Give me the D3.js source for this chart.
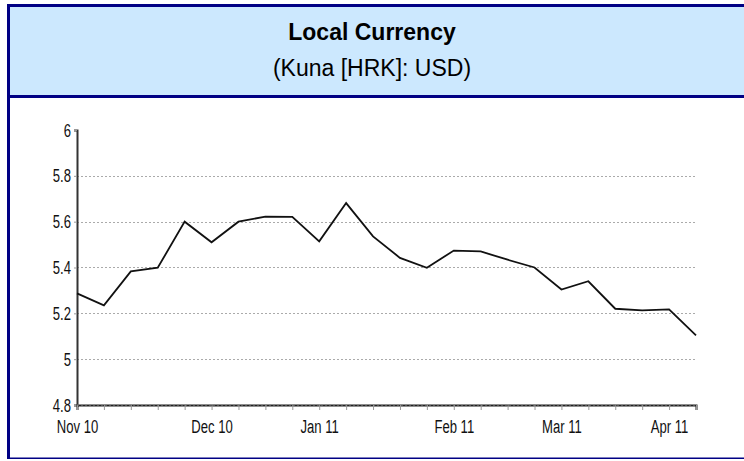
<!DOCTYPE html>
<html>
<head>
<meta charset="utf-8">
<script src="https://cdn.jsdelivr.net/npm/d3@7"></script>
<style>
  body { margin: 0; background: #fff; }
  svg { display: block; font-family: "Liberation Sans", Arial, sans-serif; }
</style>
</head>
<body>
<svg id="chart"></svg>
<script>
// Weekly rates, first Monday of Nov 10 to Apr 11
const weeks = ["2010-11-01","2010-11-08","2010-11-15","2010-11-22","2010-11-29",
  "2010-12-06","2010-12-13","2010-12-20","2010-12-27","2011-01-03","2011-01-10",
  "2011-01-17","2011-01-24","2011-01-31","2011-02-07","2011-02-14","2011-02-21",
  "2011-02-28","2011-03-07","2011-03-14","2011-03-21","2011-03-28","2011-04-04",
  "2011-04-11"];
const rates = [5.287, 5.235, 5.383, 5.399, 5.600, 5.510, 5.600, 5.622, 5.621, 5.514,
  5.681, 5.536, 5.442, 5.399, 5.474, 5.470, 5.434, 5.400, 5.304, 5.340, 5.220,
  5.213, 5.217, 5.104];
const yTicks = [4.8, 5, 5.2, 5.4, 5.6, 5.8, 6];
const gridTicks = [4.8, 5, 5.2, 5.4, 5.6, 5.8];
const monthLabels = ["Nov 10", "Dec 10", "Jan 11", "Feb 11", "Mar 11", "Apr 11"];

const title = "Local Currency";
const subtitle = "(Kuna [HRK]: USD)";

const config = {
  containerWidth: 744,
  containerHeight: 461,
  margin: { top: 130, bottom: 56, right: 48, left: 77 }
};
const width = config.containerWidth - config.margin.left - config.margin.right;
const height = config.containerHeight - config.margin.top - config.margin.bottom;
const navy = "#000084";
const squeeze = 0.69; // axis labels are drawn condensed

const svg = d3.select("#chart")
    .attr("width", config.containerWidth)
    .attr("height", config.containerHeight);

// Header panel and frame
svg.append("rect")
    .attr("x", 10).attr("y", 7)
    .attr("width", config.containerWidth - 10).attr("height", 88)
    .attr("fill", "#cce8fe");
svg.append("rect")   // top border
    .attr("x", 7).attr("y", 4)
    .attr("width", config.containerWidth - 7).attr("height", 3)
    .attr("fill", navy);
svg.append("rect")   // left border
    .attr("x", 7).attr("y", 4)
    .attr("width", 3).attr("height", 455)
    .attr("fill", navy);
svg.append("rect")   // header separator
    .attr("x", 7).attr("y", 95)
    .attr("width", config.containerWidth - 7).attr("height", 3)
    .attr("fill", navy);
svg.append("rect")   // bottom border
    .attr("x", 7).attr("y", 457.5)
    .attr("width", config.containerWidth - 7).attr("height", 1.5)
    .attr("fill", navy);

svg.append("text")
    .attr("x", config.containerWidth / 2)
    .attr("y", 40)
    .attr("text-anchor", "middle")
    .attr("font-weight", "bold")
    .style("font-size", "23px")
    .text(title);
svg.append("text")
    .attr("x", config.containerWidth / 2)
    .attr("y", 76)
    .attr("text-anchor", "middle")
    .style("font-size", "23px")
    .text(subtitle);

const chart = svg.append("g")
    .attr("transform", `translate(${config.margin.left},${config.margin.top})`);

const parse = d3.timeParse("%Y-%m-%d");

const xScale = d3.scalePoint()
    .domain(weeks)
    .range([0, width]);
const yScale = d3.scaleLinear()
    .domain([4.8, 6])
    .range([height, 0]);

// first week of every month gets a label
const labelFor = {};
let m = 0;
weeks.forEach((w, i) => {
  if (i === 0 || parse(w).getMonth() !== parse(weeks[i - 1]).getMonth()) {
    labelFor[w] = monthLabels[m++];
  }
});

// gridlines
chart.append("g")
  .selectAll("line")
  .data(gridTicks)
  .join("line")
    .attr("x1", 0).attr("x2", width)
    .attr("y1", d => Math.round(yScale(d)) + 0.5)
    .attr("y2", d => Math.round(yScale(d)) + 0.5)
    .attr("stroke", "#aaa")
    .attr("stroke-dasharray", "2,2");

// Y axis
const yAxisG = chart.append("g")
    .call(d3.axisLeft(yScale).tickValues(yTicks).tickSize(3).tickPadding(3)
      .tickFormat(d3.format("")));
yAxisG.select(".domain").attr("stroke", "#333").attr("stroke-width", 2);
yAxisG.selectAll(".tick line").attr("stroke", "#999");
yAxisG.selectAll(".tick text")
    .attr("fill", "#111")
    .style("font-size", "19px")
    .attr("x", -6 / squeeze)
    .attr("transform", `scale(${squeeze},1)`);

// X axis
const xAxisG = chart.append("g")
    .attr("transform", `translate(0,${height})`)
    .call(d3.axisBottom(xScale).tickSize(5).tickPadding(10)
      .tickFormat(d => labelFor[d] || ""));
xAxisG.select(".domain").attr("stroke", "#222").attr("stroke-width", 2);
xAxisG.selectAll(".tick line").attr("stroke", "#999");
xAxisG.selectAll(".tick text")
    .attr("fill", "#111")
    .style("font-size", "19px")
    .attr("transform", `scale(${squeeze},1)`);
chart.append("line")
    .attr("x1", 0).attr("x2", width)
    .attr("y1", height).attr("y2", height)
    .attr("stroke", "#888")
    .attr("stroke-dasharray", "2,2");

// Rate line
chart.append("path")
    .datum(weeks)
    .attr("fill", "none")
    .attr("stroke", "#111")
    .attr("stroke-width", 1.8)
    .attr("d", d3.line()
      .x(w => xScale(w))
      .y((w, i) => yScale(rates[i])));
</script>
</body>
</html>
